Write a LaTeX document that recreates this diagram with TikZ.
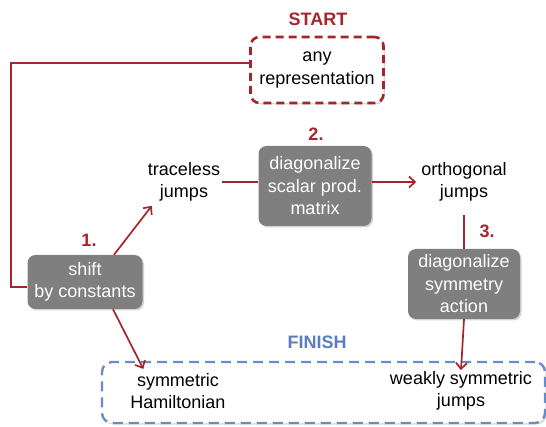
\documentclass[tikz,border=0pt]{standalone}
\usepackage{fontspec}
\setmainfont{Liberation Sans}
\usetikzlibrary{arrows.meta,shadows}
\definecolor{myred}{HTML}{A3262C}
\definecolor{mygray}{HTML}{7F7F7F}
\definecolor{myblue}{HTML}{5B7DBD}
\definecolor{myblued}{HTML}{6A8BC8}
\tikzset{
  txt/.style={align=center,font=\fontsize{18}{22.5}\selectfont,inner sep=2pt},
  graybox/.style={txt,fill=mygray,text=white,rounded corners=8pt,
    drop shadow={shadow xshift=1.5pt,shadow yshift=-1.5pt,opacity=0.35}},
  lbl/.style={font=\fontsize{18}{20}\selectfont\bfseries,text=myred},
  redline/.style={draw=myred,line width=1.7pt},
  redarr/.style={redline,-{Straight Barb[length=6pt,width=11pt]}},
}
\begin{document}
\begin{tikzpicture}[x=1pt,y=-1pt]
\useasboundingbox (0,0) rectangle (546,427);
% START
\node[lbl] (start) at (318,19) {START};
\node[txt,draw=myred,dashed,dash pattern=on 8pt off 5pt,line width=2.6pt,rounded corners=9pt,
  minimum width=133pt,minimum height=66pt,fill=white,
  drop shadow={shadow xshift=1.5pt,shadow yshift=-1.5pt,opacity=0.3}] (anyrep) at (317,70) {any\\representation};
\node[lbl] (two) at (316,134) {2.};
\node[lbl] (one) at (89,240) {1.};
\node[lbl] (three) at (487,231) {3.};
% middle row
\node[txt] (traceless) at (184,182) {traceless\\jumps};
\node[graybox,minimum width=113pt,minimum height=80pt] (diag) at (315,186) {diagonalize\\scalar prod.\\matrix};
\node[txt] (orth) at (464,182) {orthogonal\\jumps};
% shift and symmetry boxes
\node[graybox,minimum width=115pt,minimum height=54pt] (shift) at (85,282) {shift\\by constants};
\node[graybox,minimum width=112pt,minimum height=70pt] (symbox) at (464,284) {diagonalize\\symmetry\\action};
% FINISH
\node[font=\fontsize{18}{20}\selectfont\bfseries,text=myblue] (finish) at (317,342) {FINISH};
\node[draw=myblued,dashed,dash pattern=on 10pt off 6pt,line width=2.4pt,rounded corners=10pt,
  minimum width=443pt,minimum height=61pt,fill=white,
  drop shadow={shadow xshift=1.5pt,shadow yshift=-1.5pt,opacity=0.3}] (finbox) at (323.5,392.5) {};
\node[txt] (symm) at (178,391) {symmetric\\Hamiltonian};
\node[txt] (weak) at (461,391) {weakly symmetric\\jumps};
% connectors
\draw[redline] ([yshift=7pt]anyrep.west) -| ([xshift=-16pt,yshift=-5pt]shift.west) -- ([yshift=-5pt]shift.west);
\draw[redarr] ([xshift=29pt]shift.north) -- ([xshift=6pt,yshift=-2pt]traceless.south west);
\draw[redarr] ([xshift=28pt]shift.south) -- ([xshift=15pt,yshift=2pt]symm.north west);
\draw[redline] (traceless.east) -- (diag.west |- traceless.east);
\draw[redarr] (diag.east |- traceless.east) -- ([xshift=-3pt]orth.west);
\draw[redline] ([yshift=-11pt]orth.south) -- (symbox.north);
\draw[redarr] (symbox.south) -- ([yshift=-1pt]weak.north);
\end{tikzpicture}
\end{document}
